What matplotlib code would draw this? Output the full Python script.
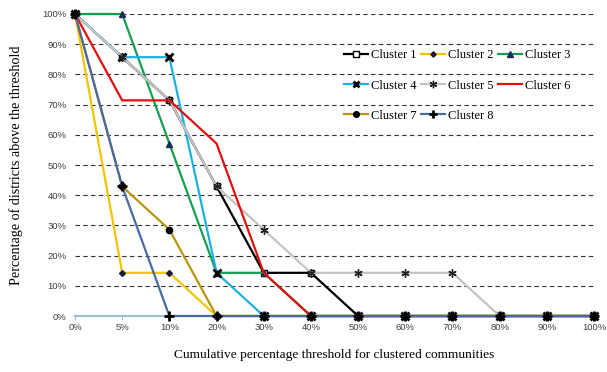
#!/usr/bin/env python3
import matplotlib
matplotlib.use("Agg")
import matplotlib.pyplot as plt
from matplotlib.ticker import FixedLocator

# thresholds on the x axis (categorical, equally spaced)
thresholds = ["0%", "5%", "10%", "20%", "30%", "40%", "50%",
              "60%", "70%", "80%", "90%", "100%"]
y_ticks = list(range(0, 101, 10))

cluster_names = ["Cluster 1", "Cluster 2", "Cluster 3", "Cluster 4",
                 "Cluster 5", "Cluster 6", "Cluster 7", "Cluster 8"]

c1 = [100, 85.7, 71.4, 42.9, 14.3, 14.3, 0, 0, 0, 0, 0, 0]
c2 = [100, 14.3, 14.3, 0, 0, 0, 0, 0, 0, 0, 0, 0]
c3 = [100, 100, 57.1, 14.3, 14.3, 0, 0, 0, 0, 0, 0, 0]
c4 = [100, 85.7, 85.7, 14.3, 0, 0, 0, 0, 0, 0, 0, 0]
c5 = [100, 85.7, 71.4, 42.9, 28.6, 14.3, 14.3, 14.3, 14.3, 0, 0, 0]
c6 = [100, 71.4, 71.4, 57.1, 14.3, 0, 0, 0, 0, 0, 0, 0]
c7 = [100, 42.9, 28.6, 0, 0, 0, 0, 0, 0, 0, 0, 0]
c8 = [100, 42.9, 0, 0, 0, 0, 0, 0, 0, 0, 0, 0]
series = [c1, c2, c3, c4, c5, c6, c7, c8]

colors = ["#000000", "#f5c400", "#12a050", "#1cb0e0",
          "#c4c4c4", "#e01010", "#b8960c", "#4a6aa4"]
styles = [
    dict(marker="s", ms=5, mfc="white", mec="black", mew=1.0),
    dict(marker="D", ms=3, mfc="#1a1a3a", mec="#1a1a3a"),
    dict(marker="^", ms=4.5, mfc="#1a2a5a", mec="#1a2a5a"),
    dict(marker="x", ms=5.5, mec="black", mew=2.0),
    dict(marker=(6, 2, 0), ms=6, mec="#222222", mew=1.0),
    dict(marker=None),
    dict(marker="o", ms=4.5, mfc="black", mec="black"),
    dict(marker="+", ms=7, mec="black", mew=2.0),
]

serif = ["Liberation Serif", "DejaVu Serif"]
sans = ["Liberation Sans", "DejaVu Sans"]

fig = plt.figure(figsize=(6.07, 3.72), dpi=100)
ax = fig.add_axes([0.1236, 0.1505, 0.8550, 0.8119])

x = list(range(len(thresholds)))
handles = []
for name, ys, col, st in zip(cluster_names, series, colors, styles):
    h, = ax.plot(x, ys, color=col, lw=1.6, label=name, clip_on=False, zorder=3, **st)
    handles.append(h)

ax.set_xlim(0, len(thresholds) - 1)
ax.set_ylim(0, 100)
ax.xaxis.set_major_locator(FixedLocator(x))
ax.set_xticklabels(thresholds, family=sans, fontsize=6.8, color="#404040")
ax.yaxis.set_major_locator(FixedLocator(y_ticks))
ax.set_yticklabels([f"{v}%" for v in y_ticks], family=sans, fontsize=6.8, color="#404040")

for v in y_ticks[1:]:
    ax.axhline(v, color="#333333", lw=0.8, ls=(0, (4, 3)), zorder=1)

for s in ["top", "right", "left"]:
    ax.spines[s].set_visible(False)
ax.spines["bottom"].set_color("#9fc0d0")
ax.spines["bottom"].set_linewidth(1.5)
ax.tick_params(axis="y", length=0, pad=6)
ax.tick_params(axis="x", length=3, color="#9fc0d0", pad=2)

ax.set_xlabel("Cumulative percentage threshold for clustered communities",
              family=serif, fontsize=9.6, labelpad=12)
ax.set_ylabel("Percentage of districts above the threshold",
              family=serif, fontsize=10.2, labelpad=14)

# legend laid out row-wise: 1 2 3 / 4 5 6 / 7 8
order = [0, 3, 6, 1, 4, 7, 2, 5]
leg = ax.legend([handles[i] for i in order], [cluster_names[i] for i in order],
                ncol=3, frameon=False, prop=dict(family=serif, size=9),
                loc="upper left", bbox_to_anchor=(0.497, 0.92),
                handlelength=1.9, handletextpad=0.25, columnspacing=0.35,
                labelspacing=1.45, markerscale=0.9)

fig.savefig("out.png", dpi=100, facecolor="white")
